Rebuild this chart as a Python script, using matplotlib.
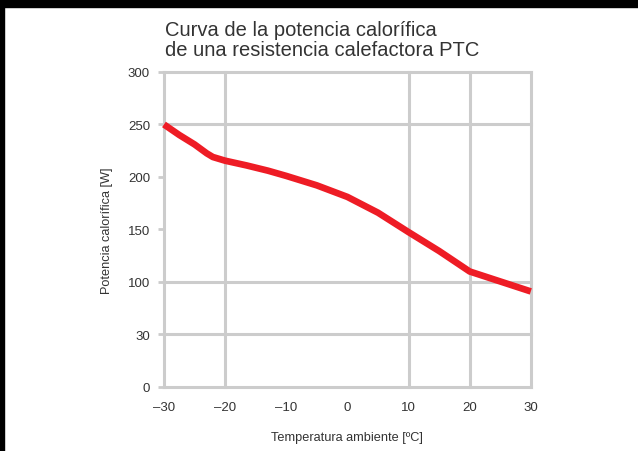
import matplotlib.pyplot as plt
from matplotlib.patches import Rectangle

plt.rcParams['font.family'] = ['Liberation Sans', 'DejaVu Sans']

# curva de potencia calorífica frente a temperatura ambiente
temperatura = [-30, -27.5, -25, -23, -22, -20, -16.5, -13, -10, -5, 0, 5, 10, 15, 20, 25, 30]
potencia = [250, 240, 231, 222.5, 219, 215.5, 211, 206, 201, 192, 181, 166, 147.5, 129.5, 110, 100.5, 91]

x_ticks = [-30, -20, -10, 0, 10, 20, 30]
x_labels = ["–30", "–20", "–10", "0", "10", "20", "30"]
y_ticks = [0, 50, 100, 150, 200, 250, 300]
y_labels = ["0", "30", "100", "150", "200", "250", "300"]
x_grid = [-30, -20, 10, 20, 30]
y_grid = [0, 50, 100, 250, 300]

gris = "#cccccc"
texto = "#333333"

fig = plt.figure(figsize=(6.38, 4.52), dpi=100)
ax = fig.add_axes([0.257, 0.1416, 0.575, 0.697])

ax.set_xlim(-30, 30)
ax.set_ylim(0, 300)

ax.set_xticks(x_ticks)
ax.set_xticklabels(x_labels)
ax.set_yticks(y_ticks)
ax.set_yticklabels(y_labels)
# las rejillas van en los ticks menores, que coinciden con los mayores
ax.xaxis.remove_overlapping_locs = False
ax.yaxis.remove_overlapping_locs = False
ax.set_xticks(x_grid, minor=True)
ax.set_yticks(y_grid, minor=True)
ax.tick_params(axis="x", which="major", length=0, pad=10, labelsize=9.5, labelcolor=texto)
ax.tick_params(axis="y", which="major", length=4, width=2, color=gris, pad=6,
               labelsize=9.5, labelcolor=texto)
ax.tick_params(which="minor", length=0)

for s in ax.spines.values():
    s.set_visible(False)

ax.grid(True, which="minor", color=gris, linewidth=2.2, clip_on=False)
ax.set_axisbelow(True)

ax.plot(temperatura, potencia, color="#ee1c25", linewidth=4.8,
        solid_capstyle="butt", solid_joinstyle="round", clip_on=False, zorder=3)

ax.set_xlabel("Temperatura ambiente [ºC]", fontsize=9.2, color=texto, labelpad=13)
ax.set_ylabel("Potencia calorífica [W]", fontsize=9.2, color=texto, labelpad=11)

fig.text(0.258, 0.91, "Curva de la potencia calorífica\nde una resistencia calefactora PTC",
         fontsize=14.5, color=texto, ha="left", va="center", linespacing=1.05)

# franjas negras del borde
fig.patches.append(Rectangle((0, 1 - 8 / 452), 1, 8 / 452, transform=fig.transFigure,
                             color="black", zorder=10))
fig.patches.append(Rectangle((0, 0), 4 / 638, 1, transform=fig.transFigure,
                             color="black", zorder=10))

fig.savefig("out.png", dpi=100, facecolor="white")
